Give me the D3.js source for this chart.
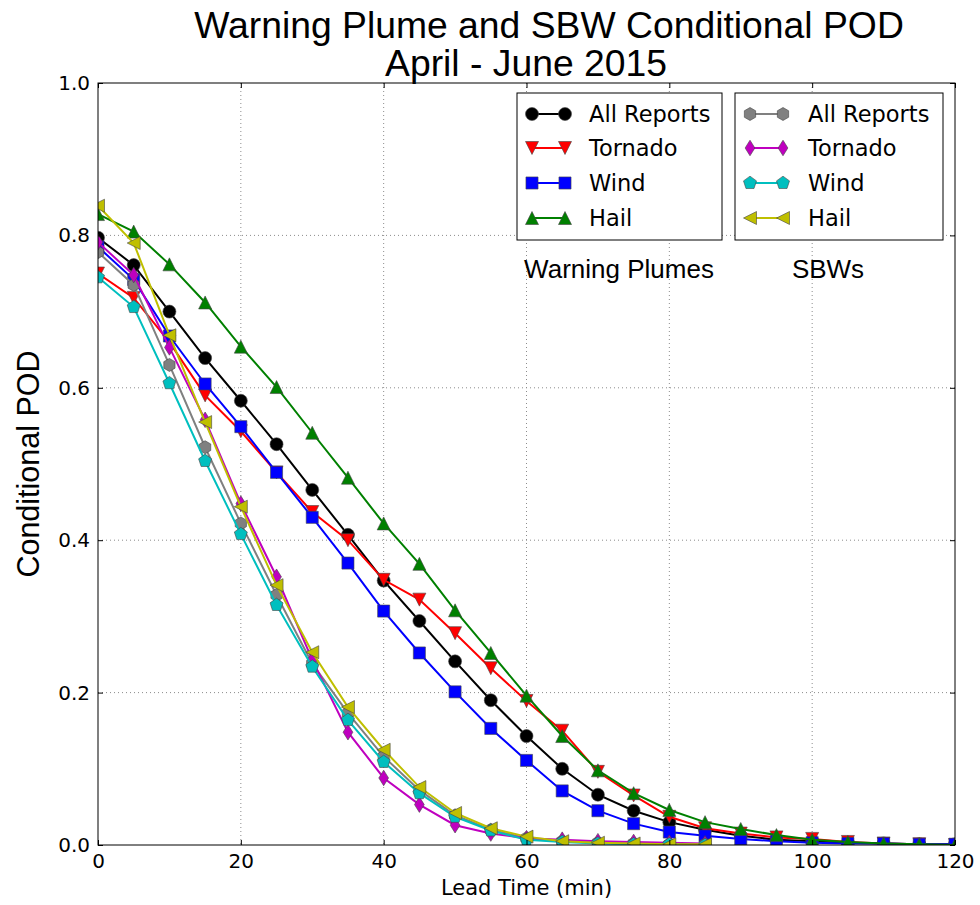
<!DOCTYPE html>
<html>
<head>
<meta charset="utf-8">
<script src="https://cdn.jsdelivr.net/npm/d3@7/dist/d3.min.js"></script>
<style>
  html, body { margin: 0; padding: 0; background: #fff; }
  svg { display: block; }
</style>
</head>
<body>
<svg id="chart" width="980" height="905"></svg>
<script>
// ---------------- DATA ----------------
const leadTimesWP = d3.range(0, 121, 5);   // 0..120 min
const leadTimesSBW = d3.range(0, 86, 5);   // 0..85 min

const wpAll     = [0.797,0.761,0.700,0.639,0.583,0.526,0.466,0.407,0.347,0.294,0.241,0.190,0.143,0.100,0.066,0.045,0.030,0.020,0.012,0.007,0.005,0.003,0.002,0.001,0.001];
const wpTornado = [0.750,0.718,0.660,0.590,0.543,0.489,0.437,0.400,0.348,0.322,0.278,0.232,0.189,0.150,0.096,0.065,0.037,0.022,0.015,0.010,0.008,0.004,0.002,0.001,0.000];
const wpWind    = [0.785,0.742,0.668,0.605,0.549,0.489,0.430,0.370,0.307,0.252,0.201,0.153,0.111,0.071,0.045,0.028,0.017,0.012,0.008,0.005,0.003,0.002,0.002,0.001,0.001];
const wpHail    = [0.828,0.805,0.762,0.712,0.654,0.601,0.541,0.482,0.422,0.369,0.308,0.252,0.196,0.143,0.098,0.068,0.046,0.030,0.021,0.013,0.007,0.004,0.002,0.001,0.000];

const sbwAll     = [0.778,0.735,0.630,0.522,0.422,0.328,0.238,0.173,0.116,0.072,0.039,0.020,0.009,0.005,0.003,0.002,0.001,0.001];
const sbwTornado = [0.791,0.748,0.653,0.558,0.448,0.352,0.243,0.148,0.088,0.053,0.026,0.015,0.009,0.007,0.005,0.004,0.003,0.002];
const sbwWind    = [0.745,0.706,0.606,0.504,0.408,0.315,0.234,0.164,0.109,0.068,0.037,0.019,0.007,0.004,0.002,0.001,0.001,0.000];
const sbwHail    = [0.839,0.790,0.669,0.555,0.444,0.341,0.253,0.181,0.125,0.076,0.042,0.022,0.011,0.005,0.003,0.002,0.001,0.001];

const seriesNames = ["All Reports", "Tornado", "Wind", "Hail"];
const xTicks = [0, 20, 40, 60, 80, 100, 120];
const yTicks = [0.0, 0.2, 0.4, 0.6, 0.8, 1.0];

const titleLines = ["Warning Plume and SBW Conditional POD", "April - June 2015"];
const xLabel = "Lead Time (min)";
const yLabel = "Conditional POD";
const legendTitles = ["Warning Plumes", "SBWs"];

// ---------------- STYLES ----------------
const wpStyles = [
  {color: "#000000", marker: "circle"},
  {color: "#ff0000", marker: "tridown"},
  {color: "#0000ff", marker: "square"},
  {color: "#008000", marker: "triup"}
];
const sbwStyles = [
  {color: "#808080", marker: "hexagon"},
  {color: "#bf00bf", marker: "thindiamond"},
  {color: "#00bfbf", marker: "pentagon"},
  {color: "#bfbf00", marker: "trileft"}
];

// ---------------- LAYOUT ----------------
const svg = d3.select("#chart");
const L = 98, R = 955, T = 83, B = 845;
const x = d3.scaleLinear().domain([0, 120]).range([L, R]);
const y = d3.scaleLinear().domain([0, 1]).range([B, T]);

function poly(pts) { return "M" + pts.map(p => p[0].toFixed(2) + "," + p[1].toFixed(2)).join("L") + "Z"; }
function regular(n, r, rot) {
  const pts = [];
  for (let i = 0; i < n; i++) {
    const a = rot + i * 2 * Math.PI / n;
    pts.push([r * Math.cos(a), r * Math.sin(a)]);
  }
  return poly(pts);
}
const MS = 6.5;
function markerPath(kind) {
  const r = MS;
  switch (kind) {
    case "circle": return d3.symbol(d3.symbolCircle, Math.PI * r * r)();
    case "square": { const s = r * 0.93; return poly([[-s,-s],[s,-s],[s,s],[-s,s]]); }
    case "tridown": return poly([[0, r], [-r, -r], [r, -r]]);
    case "triup": return poly([[0, -r], [-r, r], [r, r]]);
    case "trileft": return poly([[-r, 0], [r, -r], [r, r]]);
    case "hexagon": return regular(6, r, -Math.PI / 2);
    case "pentagon": return regular(5, r * 1.05, -Math.PI / 2);
    case "thindiamond": return poly([[0, -r * 1.2], [r * 0.75, 0], [0, r * 1.2], [-r * 0.75, 0]]);
  }
}

// clip
svg.append("defs").append("clipPath").attr("id", "clip")
  .append("rect").attr("x", L).attr("y", T).attr("width", R - L).attr("height", B - T);

// grid
const grid = svg.append("g").attr("class", "grid");
grid.selectAll("line.gx").data(xTicks.slice(1, -1)).join("line")
  .attr("x1", d => x(d)).attr("x2", d => x(d)).attr("y1", T).attr("y2", B)
  .attr("stroke", "#8c8c8c").attr("stroke-width", 1).attr("stroke-dasharray", "1,3");
grid.selectAll("line.gy").data(yTicks.slice(1, -1)).join("line")
  .attr("x1", L).attr("x2", R).attr("y1", d => y(d)).attr("y2", d => y(d))
  .attr("stroke", "#8c8c8c").attr("stroke-width", 1).attr("stroke-dasharray", "1,3");

// series
const plot = svg.append("g").attr("clip-path", "url(#clip)");
const line = d3.line().x(d => x(d[0])).y(d => y(d[1]));
function drawSeries(xs, vals, st) {
  const pts = xs.map((t, i) => [t, vals[i]]);
  plot.append("path").datum(pts).attr("d", line)
    .attr("fill", "none").attr("stroke", st.color).attr("stroke-width", 2);
  plot.append("g").selectAll("path").data(pts).join("path")
    .attr("transform", d => `translate(${x(d[0])},${y(d[1])})`)
    .attr("d", markerPath(st.marker))
    .attr("fill", st.color).attr("stroke", "#444").attr("stroke-width", 0.6);
}
[wpAll, wpTornado, wpWind, wpHail].forEach((v, i) => drawSeries(leadTimesWP, v, wpStyles[i]));
[sbwAll, sbwTornado, sbwWind, sbwHail].forEach((v, i) => drawSeries(leadTimesSBW, v, sbwStyles[i]));

// axes (frame + inward ticks on all sides)
const axG = svg.append("g");
const tickFont = "'DejaVu Sans', sans-serif";
const xAxB = d3.axisBottom(x).tickValues(xTicks).tickSize(-5).tickPadding(9).tickFormat(d3.format("d"));
const xAxT = d3.axisTop(x).tickValues(xTicks).tickSize(-5).tickFormat("");
const yAxL = d3.axisLeft(y).tickValues(yTicks).tickSize(-5).tickPadding(8).tickFormat(d3.format(".1f"));
const yAxR = d3.axisRight(y).tickValues(yTicks).tickSize(-5).tickFormat("");
axG.append("g").attr("transform", `translate(0,${B})`).call(xAxB);
axG.append("g").attr("transform", `translate(0,${T})`).call(xAxT);
axG.append("g").attr("transform", `translate(${L},0)`).call(yAxL);
axG.append("g").attr("transform", `translate(${R},0)`).call(yAxR);
axG.selectAll(".domain").remove();
axG.selectAll(".tick line").attr("stroke", "#000").attr("stroke-width", 1);
axG.selectAll(".tick text").attr("font-family", tickFont).attr("font-size", 20).attr("fill", "#000");
svg.append("rect").attr("x", L).attr("y", T).attr("width", R - L).attr("height", B - T)
  .attr("fill", "none").attr("stroke", "#000").attr("stroke-width", 1);

// labels
svg.append("text").attr("x", (L + R) / 2).attr("y", 895).attr("text-anchor", "middle")
  .attr("font-family", tickFont).attr("font-size", 21).text(xLabel);
svg.append("text").attr("transform", `translate(39,${(T + B) / 2}) rotate(-90)`).attr("text-anchor", "middle")
  .attr("font-family", "'Liberation Sans', Arial, sans-serif").attr("font-size", 30.5).text(yLabel);

// title
svg.append("text").attr("x", 549).attr("y", 38).attr("text-anchor", "middle")
  .attr("font-family", "'Liberation Sans', Arial, sans-serif").attr("font-size", 37.3).text(titleLines[0]);
svg.append("text").attr("x", 526).attr("y", 76).attr("text-anchor", "middle")
  .attr("font-family", "'Liberation Sans', Arial, sans-serif").attr("font-size", 37.3).text(titleLines[1]);

// legends
function legend(x0, x1, styles, lineX0, lineX1, textX) {
  const g = svg.append("g");
  g.append("rect").attr("x", x0).attr("y", 93).attr("width", x1 - x0).attr("height", 147)
    .attr("fill", "#fff").attr("stroke", "#000").attr("stroke-width", 1);
  const rows = [114, 148, 183, 218];
  styles.forEach((st, i) => {
    g.append("line").attr("x1", lineX0).attr("x2", lineX1).attr("y1", rows[i]).attr("y2", rows[i])
      .attr("stroke", st.color).attr("stroke-width", 2);
    [lineX0, lineX1].forEach(px => {
      g.append("path").attr("transform", `translate(${px},${rows[i]})`).attr("d", markerPath(st.marker))
        .attr("fill", st.color).attr("stroke", "#444").attr("stroke-width", 0.6);
    });
    g.append("text").attr("x", textX).attr("y", rows[i]).attr("dy", "0.36em")
      .attr("font-family", tickFont).attr("font-size", 22.5).text(seriesNames[i]);
  });
}
legend(517, 722, wpStyles, 532, 565, 589);
legend(735, 943, sbwStyles, 750, 783, 808);

svg.append("text").attr("x", 619).attr("y", 278).attr("text-anchor", "middle")
  .attr("font-family", "'Liberation Sans', Arial, sans-serif").attr("font-size", 26).text(legendTitles[0]);
svg.append("text").attr("x", 828).attr("y", 278).attr("text-anchor", "middle")
  .attr("font-family", "'Liberation Sans', Arial, sans-serif").attr("font-size", 26).text(legendTitles[1]);
</script>
</body>
</html>
